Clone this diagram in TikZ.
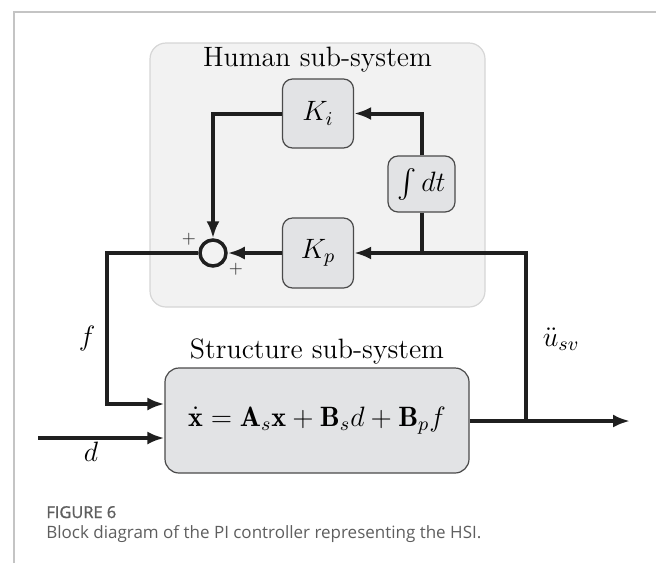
\RequirePackage{fix-cm}
\documentclass[tikz,border=0pt]{standalone}
\usepackage{fontspec}
\usepackage{amsmath}
\usetikzlibrary{arrows.meta}
\newfontfamily\capfont{Open Sans}
\newfontfamily\capfontsb[FakeBold=1.2]{Open Sans}
\definecolor{framec}{HTML}{C4C4C4}
\definecolor{humfill}{HTML}{F2F2F2}
\definecolor{humdraw}{HTML}{D6D6D6}
\definecolor{blkfill}{HTML}{E2E3E5}
\definecolor{blkdraw}{HTML}{4A4A4A}
\definecolor{capgray}{HTML}{5E5E5E}
\begin{document}
\begin{tikzpicture}[x=0.5pt,y=-0.5pt,
  conn/.style={line width=2pt, draw=black!88},
  arr/.style={conn, -{Latex[length=8.5pt,width=6.5pt]}},
  blk/.style={draw=blkdraw, line width=0.6pt, fill=blkfill, rounded corners=5pt,
    inner sep=0pt, font=\fontsize{14}{17}\selectfont},
  lbl/.style={font=\fontsize{14}{17}\selectfont, inner sep=0pt},
  sgn/.style={font=\fontsize{8.5}{10}\selectfont, inner sep=0pt, text=black!80},
  captxt/.style={text=capgray, inner sep=0pt, anchor=base west}]
\useasboundingbox (0,0) rectangle (656,563);
% figure frame
\draw[framec, line width=0.75pt] (14,563) -- (14,12) -- (656,12);
% human sub-system background
\draw[fill=humfill, draw=humdraw, line width=0.6pt, rounded corners=8pt] (150,43) rectangle (485,307);
\node[lbl, anchor=base] (htitle) at (317.5,66) {Human sub-system};
% blocks
\node[blk, minimum width=35.5pt, minimum height=34.5pt] (Ki) at (318,113.5) {$K_i$};
\node[blk, minimum width=35.5pt, minimum height=35pt] (Kp) at (318,253) {$K_p$};
\node[blk, minimum width=33.5pt, minimum height=28pt] (int) at (421.5,184) {$\int dt$};
\node[circle, draw=black!88, line width=1.75pt, minimum size=13pt, inner sep=0pt] (sum) at (213,253) {};
\node[sgn] (p1) at (189,239) {$+$};
\node[sgn] (p2) at (236,269) {$+$};
% structure sub-system
\node[lbl, anchor=base] (stitle) at (317,358) {Structure sub-system};
\node[blk, rounded corners=7pt, minimum width=152pt, minimum height=52.5pt] (S) at (317,420.5)
  {$\dot{\mathbf{x}} = \mathbf{A}_s\mathbf{x} + \mathbf{B}_s d + \mathbf{B}_p f$};
% coordinates
\coordinate (ro) at (526,421);
\coordinate (out) at (630,421);
\coordinate (fc) at (107,404);
\coordinate (din) at (38,438);
% connectors
\draw[arr] (Kp.west) -- (sum.east);
\draw[arr] (Ki.west) -| (sum.north);
\draw[conn] (int.south) -- (int.south |- Kp.east);
\draw[arr] (int.north) |- (Ki.east);
\draw[arr] (ro) |- (Kp.east);
\draw[arr] (S.east |- out) -- (out);
\draw[arr] (sum.west) -| (fc) -- (S.west |- fc);
\draw[arr] (din) -- (S.west |- din);
% signal labels
\node[lbl] (flab) at (87,338) {$f$};
\node[lbl] (ulab) at (561,339) {$\ddot{u}_{sv}$};
\node[lbl] (dlab) at (91,452) {$d$};
% caption
\node[captxt, font=\capfontsb\fontsize{8.2}{10}\selectfont] (fig) at (46,518) {FIGURE 6};
\node[captxt, font=\capfont\fontsize{8.5}{10}\selectfont] (captext) at (46,538) {Block diagram of the PI controller representing the HSI.};
\end{tikzpicture}
\end{document}
